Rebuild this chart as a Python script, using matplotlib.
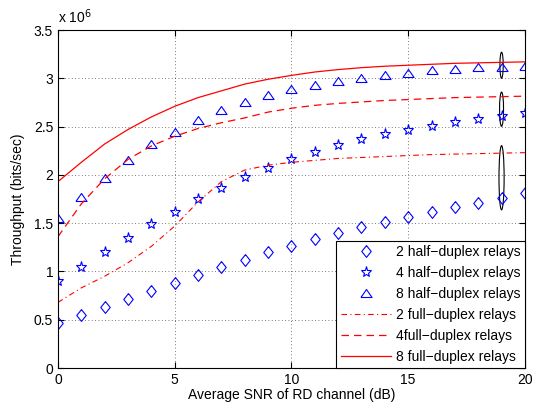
import matplotlib
matplotlib.use("Agg")
import matplotlib.pyplot as plt
from matplotlib.patches import Ellipse
import numpy as np

plt.rcParams['font.family'] = ['Liberation Sans', 'DejaVu Sans']

snr = list(range(0, 21))

# values in units of 1e6 bits/sec
hd2 = [0.47, 0.55, 0.63, 0.714, 0.80, 0.88, 0.96, 1.043, 1.118, 1.198, 1.267,
       1.333, 1.40, 1.457, 1.512, 1.567, 1.612, 1.664, 1.709, 1.76, 1.809]
hd4 = [0.90, 1.049, 1.198, 1.343, 1.488, 1.619, 1.747, 1.867, 1.978, 2.074, 2.161,
       2.24, 2.309, 2.368, 2.42, 2.465, 2.506, 2.544, 2.578, 2.609, 2.637]
hd8 = [1.55, 1.774, 1.97, 2.15, 2.316, 2.447, 2.568, 2.671, 2.758, 2.827, 2.889,
       2.93, 2.972, 3.006, 3.034, 3.058, 3.086, 3.10, 3.114, 3.117, 3.13]
fd2 = [0.68, 0.83, 0.95, 1.09, 1.26, 1.47, 1.72, 1.93, 2.05, 2.10, 2.13,
       2.15, 2.17, 2.18, 2.19, 2.20, 2.21, 2.215, 2.22, 2.225, 2.23]
fd4 = [1.36, 1.70, 1.96, 2.16, 2.30, 2.40, 2.48, 2.54, 2.59, 2.65, 2.69,
       2.72, 2.74, 2.755, 2.77, 2.78, 2.79, 2.80, 2.805, 2.81, 2.815]
fd8 = [1.93, 2.13, 2.32, 2.47, 2.60, 2.71, 2.80, 2.87, 2.94, 2.99, 3.03,
       3.065, 3.09, 3.11, 3.125, 3.135, 3.145, 3.155, 3.16, 3.165, 3.17]

labels = ['2 half\u2212duplex relays', '4 half\u2212duplex relays', '8 half\u2212duplex relays',
          '2 full\u2212duplex relays', '4full\u2212duplex relays', '8 full\u2212duplex relays']

# ellipses: (x center, y center, height)
ell_x = [19, 19, 19]
ell_y = [3.135, 2.68, 1.97]
ell_h = [0.27, 0.355, 0.665]
ell_w = [0.14, 0.17, 0.22]

fig = plt.figure(figsize=(5.33, 4.11), dpi=100)
ax = fig.add_axes([0.1088, 0.1046, 0.876, 0.8224])

blue = '#0000ff'
red = '#ff0000'
diamond = [(0, 1), (0.8, 0), (0, -1), (-0.8, 0), (0, 1)]
tri = [(-1, -0.72), (1, -0.72), (0, 0.72), (-1, -0.72)]

ax.plot(snr, hd2, linestyle='none', marker=diamond, ms=8.5, mfc='none', mec=blue, mew=0.8, label=labels[0])
ax.plot(snr, hd4, linestyle='none', marker='*', ms=8, mfc='none', mec=blue, mew=0.8, label=labels[1])
ax.plot(snr, hd8, linestyle='none', marker=tri, ms=8, mfc='none', mec=blue, mew=0.8, label=labels[2])
ax.plot(snr, fd2, color=red, lw=0.8, linestyle=(0, (5, 3, 1, 3)), label=labels[3])
ax.plot(snr, fd4, color=red, lw=0.9, linestyle=(0, (6, 4)), label=labels[4])
ax.plot(snr, fd8, color=red, lw=0.9, linestyle='-', label=labels[5])

for x, y, h, w in zip(ell_x, ell_y, ell_h, ell_w):
    ax.add_patch(Ellipse((x, y), w, h, fill=False, edgecolor='black', lw=0.8))

ax.set_xlim(0, 20)
ax.set_ylim(0, 3.5)
ax.set_xticks([0, 5, 10, 15, 20])
ax.set_yticks([0, 0.5, 1, 1.5, 2, 2.5, 3, 3.5])
ax.set_yticklabels(['0', '0.5', '1', '1.5', '2', '2.5', '3', '3.5'])
ax.grid(True, linestyle=(0, (1, 3)), color='black', lw=0.6, alpha=0.7)
ax.tick_params(direction='in', top=True, right=True, labelsize=10, length=4)
for s in ax.spines.values():
    s.set_linewidth(0.8)

ax.set_xlabel('Average SNR of RD channel (dB)', fontsize=10, labelpad=1)
ax.set_ylabel('Throughput (bits/sec)', fontsize=10, labelpad=6)
ax.text(0.0, 1.012, r'x 10$^{6}$', transform=ax.transAxes, fontsize=10, ha='left', va='bottom')

leg = ax.legend(loc='lower right', fontsize=10, handlelength=3.6, borderaxespad=0,
                fancybox=False, edgecolor='black', framealpha=1, labelspacing=0.5,
                handletextpad=0.4, borderpad=0.3)
leg.get_frame().set_linewidth(0.8)

fig.savefig('out.png', dpi=100)
